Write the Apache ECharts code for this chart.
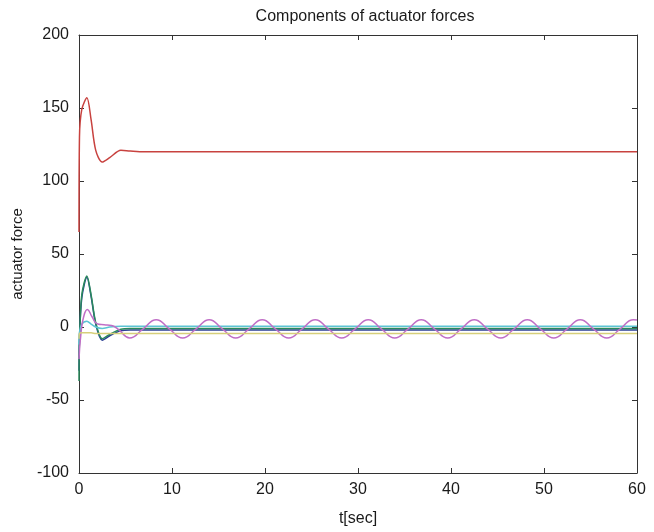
<!DOCTYPE html>
<html>
<head>
<meta charset="utf-8">
<script src="https://cdn.jsdelivr.net/npm/echarts@6/dist/echarts.min.js"></script>
<style>
  html, body { margin: 0; padding: 0; background: #fff; }
  #main { width: 654px; height: 532px; }
</style>
</head>
<body>
<div id="main"></div>
<script>
// time points (sec) for the transient part
var tFast = [0, 0.05, 0.3, 0.85, 1.3, 1.8, 2.5, 3.3, 4.5, 5.5, 7, 60];

// actuator forces, one list per leg
var forceBlue   = [-30, -8, 20, 34, 21, 2, -9, -6, -2.5, -2, -2, -2];
var forceGreen  = [-37, -10, 22, 35, 22, 3, -8, -5, -1.5, -1, -1, -1];
var forceRed    = [65, 130, 149, 157, 142, 121, 113, 116, 121, 120.5, 120, 120];
var forceCyan   = [-12, -4, 2, 4, 2, 0, -1, 0, 0.5, 0.5, 0.5, 0.5];
var forceYellow = [-8, -4.5, -4, -4, -4, -4.5, -4.5, -4.5, -4.5, -4.5, -4.5, -4.5];

// the oscillating leg has its own time points (peaks, troughs, crossings)
var tMag = [0, 0.2, 0.5, 0.9, 1.4, 2.0, 2.7, 3.5, 4.2, 5.45, 6.9, 8.3, 9.7, 11.15, 12.6, 14.0, 15.4,
  16.85, 18.3, 19.7, 21.1, 22.55, 24.0, 25.4, 26.8, 28.25, 29.7, 31.1, 32.5, 33.95, 35.4, 36.8,
  38.2, 39.65, 41.1, 42.5, 43.9, 45.35, 46.8, 48.2, 49.6, 51.05, 52.5, 53.9, 55.3, 56.75, 58.2,
  59.6, 60];
var forceMagenta = [-22, -5, 7, 12, 7, 2, 1.5, 1, -1.5, -7.5, -1.25, 5, -1.25, -7.5, -1.25, 5, -1.25,
  -7.5, -1.25, 5, -1.25, -7.5, -1.25, 5, -1.25, -7.5, -1.25, 5, -1.25, -7.5, -1.25, 5,
  -1.25, -7.5, -1.25, 5, -1.25, -7.5, -1.25, 5, -1.25, -7.5, -1.25, 5, -1.25, -7.5, -1.25,
  5, 4.8];

var xTicks = [0, 10, 20, 30, 40, 50, 60];
var yTicks = [-100, -50, 0, 50, 100, 150, 200];

function pairs(t, v) {
  var out = [];
  for (var i = 0; i < t.length; i++) out.push([t[i], v[i]]);
  return out;
}

var font = "'Liberation Sans', Arial, sans-serif";
var axisColor = '#333';

function line(name, color, t, v, smooth) {
  return {
    name: name,
    type: 'line',
    data: pairs(t, v),
    showSymbol: false,
    smooth: smooth,
    lineStyle: { color: color, width: 1.5 },
    itemStyle: { color: color },
    animation: false
  };
}

// frame: the second x / y axes only close the box (ticks, no labels)
function frameAxis(pos, ticks, step) {
  return {
    type: 'value', position: pos,
    min: ticks[0], max: ticks[ticks.length - 1], interval: step,
    axisLine: { show: true, onZero: false, lineStyle: { color: axisColor } },
    axisTick: { show: true, inside: true, length: 5, lineStyle: { color: axisColor } },
    axisLabel: { show: false },
    splitLine: { show: false }
  };
}

var myChart = echarts.init(document.getElementById('main'));

var option = {
  backgroundColor: '#fff',
  title: {
    text: 'Components of actuator forces',
    left: 360,
    textAlign: 'center',
    top: 4,
    textStyle: { fontFamily: font, fontSize: 16, fontWeight: 'normal', color: '#1a1a1a' }
  },
  grid: { left: 79, right: 17, top: 35, bottom: 57 },
  xAxis: [{
    type: 'value',
    min: xTicks[0], max: xTicks[xTicks.length - 1], interval: 10,
    name: 't[sec]', nameLocation: 'middle', nameGap: 38,
    nameTextStyle: { fontFamily: font, fontSize: 16, color: '#1a1a1a' },
    axisLine: { show: true, onZero: false, lineStyle: { color: axisColor } },
    axisTick: { show: true, inside: true, length: 5, lineStyle: { color: axisColor } },
    axisLabel: { fontFamily: font, fontSize: 16, color: '#1a1a1a', margin: 9 },
    splitLine: { show: false }
  }, frameAxis('top', xTicks, 10)],
  yAxis: [{
    type: 'value',
    min: yTicks[0], max: yTicks[yTicks.length - 1], interval: 50,
    name: 'actuator force', nameLocation: 'middle', nameGap: 54,
    nameTextStyle: { fontFamily: font, fontSize: 15, color: '#1a1a1a' },
    axisLine: { show: true, onZero: false, lineStyle: { color: axisColor } },
    axisTick: { show: true, inside: true, length: 5, lineStyle: { color: axisColor } },
    axisLabel: { fontFamily: font, fontSize: 16, color: '#1a1a1a', margin: 10 },
    splitLine: { show: false }
  }, frameAxis('right', yTicks, 50)],
  series: [
    line('leg 1', '#2b3f94', tFast, forceBlue, 0.3),
    line('leg 2', '#2a8a5c', tFast, forceGreen, 0.3),
    line('leg 3', '#c8423f', tFast, forceRed, 0.3),
    line('leg 4', '#5cc4d4', tFast, forceCyan, 0.3),
    line('leg 5', '#c06ec6', tMag, forceMagenta, 0.5),
    line('leg 6', '#d6cf7a', tFast, forceYellow, 0.3)
  ]
};

myChart.setOption(option);
</script>
</body>
</html>
